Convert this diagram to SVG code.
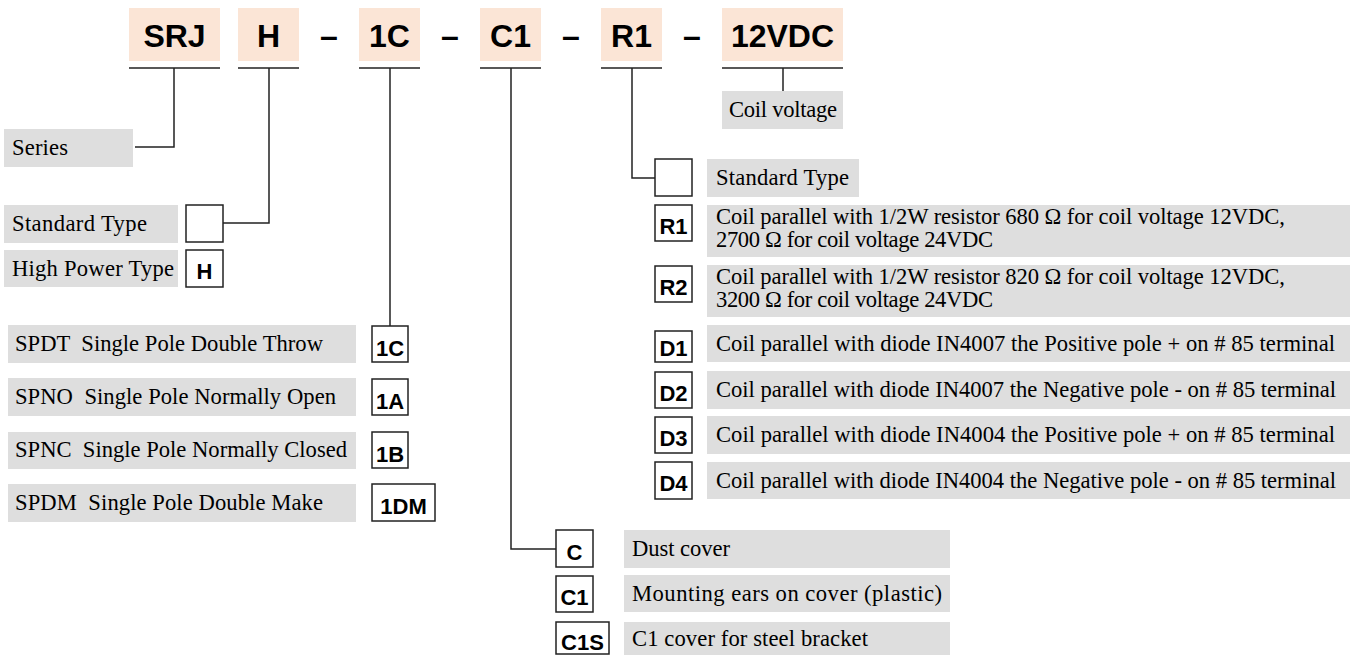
<svg xmlns="http://www.w3.org/2000/svg" width="1356" height="655" viewBox="0 0 1356 655">
<style>
.hd{fill:#fbe5d6}
.gr{fill:#dedede}
.cb{fill:#fff;stroke:#222;stroke-width:1.5}
.ht{font-family:"Liberation Sans",Arial,sans-serif;font-weight:bold;font-size:32px;fill:#000;text-anchor:middle}
.ct{font-family:"Liberation Sans",Arial,sans-serif;font-weight:bold;font-size:22px;fill:#000;text-anchor:middle}
.t{font-family:"Liberation Serif","Times New Roman",serif;font-size:22.6px;fill:#000}
.ln{fill:none;stroke:#222;stroke-width:1.5}
</style>
<rect width="1356" height="655" fill="#fff"/>
<g id="header">
<g id="h-srj"><rect class="hd" x="129" y="8" width="91" height="53"/><text class="ht" x="174.5" y="47">SRJ</text></g>
<g id="h-h"><rect class="hd" x="238" y="8" width="61" height="53"/><text class="ht" x="268.5" y="47">H</text></g>
<text class="ht" x="329" y="47">–</text>
<g id="h-1c"><rect class="hd" x="359" y="8" width="61" height="53"/><text class="ht" x="389.5" y="47">1C</text></g>
<text class="ht" x="450" y="47">–</text>
<g id="h-c1"><rect class="hd" x="480" y="8" width="61" height="53"/><text class="ht" x="510.5" y="47">C1</text></g>
<text class="ht" x="571" y="47">–</text>
<g id="h-r1"><rect class="hd" x="601" y="8" width="61" height="53"/><text class="ht" x="631.5" y="47">R1</text></g>
<text class="ht" x="692" y="47">–</text>
<g id="h-12vdc"><rect class="hd" x="722" y="8" width="121" height="53"/><text class="ht" x="782.5" y="47">12VDC</text></g>
</g>
<g id="connectors">
<path class="ln" d="M129 68H220M238 68H299M359 68H420M480 68H541M601 68H662M722 68H843"/>
<path class="ln" d="M174 68V147H135"/>
<path class="ln" d="M269 68V223H223"/>
<path class="ln" d="M390 68V326"/>
<path class="ln" d="M511 68V549H556"/>
<path class="ln" d="M632 68V178H655"/>
<path class="ln" d="M783 68V91"/>
</g>
<g id="coil-voltage"><rect class="gr" x="722" y="91" width="121" height="38"/><text class="t" x="729" y="117" textLength="108">Coil voltage</text></g>
<g id="series"><rect class="gr" x="4" y="129" width="129" height="38"/><text class="t" x="12" y="155" textLength="56">Series</text></g>
<g id="std-type-l"><rect class="gr" x="4" y="205" width="174" height="38"/><text class="t" x="12" y="231" textLength="135">Standard Type</text><rect class="cb" x="186" y="205" width="37" height="37"/></g>
<g id="high-power"><rect class="gr" x="4" y="250" width="174" height="37"/><text class="t" x="12" y="276" textLength="162">High Power Type</text><rect class="cb" x="186" y="250" width="37" height="37"/><text class="ct" x="204.5" y="279">H</text></g>
<g id="spdt"><rect class="gr" x="8" y="325" width="348" height="38"/><text class="t" x="15" y="351" xml:space="preserve" textLength="308">SPDT  Single Pole Double Throw</text><rect class="cb" x="372" y="326" width="36" height="36"/><text class="ct" x="390" y="356">1C</text></g>
<g id="spno"><rect class="gr" x="8" y="378" width="348" height="38"/><text class="t" x="15" y="404" xml:space="preserve" textLength="321">SPNO  Single Pole Normally Open</text><rect class="cb" x="372" y="379" width="36" height="36"/><text class="ct" x="390" y="409">1A</text></g>
<g id="spnc"><rect class="gr" x="8" y="432" width="348" height="37"/><text class="t" x="15" y="457" xml:space="preserve" textLength="332">SPNC  Single Pole Normally Closed</text><rect class="cb" x="372" y="432" width="36" height="36"/><text class="ct" x="390" y="462">1B</text></g>
<g id="spdm"><rect class="gr" x="8" y="484" width="348" height="38"/><text class="t" x="15" y="510" xml:space="preserve" textLength="308">SPDM  Single Pole Double Make</text><rect class="cb" x="372" y="484" width="63" height="37"/><text class="ct" x="403.5" y="514">1DM</text></g>
<g id="std-type-r"><rect class="cb" x="655" y="159" width="37" height="37"/><rect class="gr" x="707" y="159" width="152" height="38"/><text class="t" x="716" y="185" textLength="133">Standard Type</text></g>
<g id="r1"><rect class="cb" x="655" y="205" width="37" height="36"/><text class="ct" x="673.5" y="234">R1</text><rect class="gr" x="707" y="205" width="643" height="52"/><text class="t" x="716" y="224" textLength="569">Coil parallel with 1/2W resistor 680 Ω for coil voltage 12VDC,</text><text class="t" x="716" y="247" textLength="277">2700 Ω for coil voltage 24VDC</text></g>
<g id="r2"><rect class="cb" x="655" y="266" width="37" height="36"/><text class="ct" x="673.5" y="295">R2</text><rect class="gr" x="707" y="265" width="643" height="52"/><text class="t" x="716" y="284" textLength="569">Coil parallel with 1/2W resistor 820 Ω for coil voltage 12VDC,</text><text class="t" x="716" y="307" textLength="277">3200 Ω for coil voltage 24VDC</text></g>
<g id="d1"><rect class="cb" x="655" y="331" width="37" height="31"/><text class="ct" x="673.5" y="356">D1</text><rect class="gr" x="707" y="325" width="643" height="37"/><text class="t" x="716" y="351" textLength="619">Coil parallel with diode IN4007 the Positive pole + on # 85 terminal</text></g>
<g id="d2"><rect class="cb" x="655" y="372" width="37" height="36"/><text class="ct" x="673.5" y="401">D2</text><rect class="gr" x="707" y="371" width="643" height="38"/><text class="t" x="716" y="397" textLength="620">Coil parallel with diode IN4007 the Negative pole - on # 85 terminal</text></g>
<g id="d3"><rect class="cb" x="655" y="417" width="37" height="36"/><text class="ct" x="673.5" y="446">D3</text><rect class="gr" x="707" y="416" width="643" height="38"/><text class="t" x="716" y="442" textLength="619">Coil parallel with diode IN4004 the Positive pole + on # 85 terminal</text></g>
<g id="d4"><rect class="cb" x="655" y="462" width="37" height="37"/><text class="ct" x="673.5" y="491">D4</text><rect class="gr" x="707" y="462" width="643" height="37"/><text class="t" x="716" y="488" textLength="620">Coil parallel with diode IN4004 the Negative pole - on # 85 terminal</text></g>
<g id="c"><rect class="cb" x="556" y="530" width="37" height="37"/><text class="ct" x="574.5" y="560">C</text><rect class="gr" x="624" y="530" width="326" height="38"/><text class="t" x="632" y="556" textLength="98">Dust cover</text></g>
<g id="c1"><rect class="cb" x="556" y="576" width="37" height="36"/><text class="ct" x="574.5" y="605">C1</text><rect class="gr" x="624" y="575" width="326" height="37"/><text class="t" x="632" y="601" textLength="310">Mounting ears on cover (plastic)</text></g>
<g id="c1s"><rect class="cb" x="556" y="622" width="53" height="32"/><text class="ct" x="582.5" y="650">C1S</text><rect class="gr" x="624" y="622" width="326" height="33"/><text class="t" x="632" y="646" textLength="236">C1 cover for steel bracket</text></g>
</svg>
